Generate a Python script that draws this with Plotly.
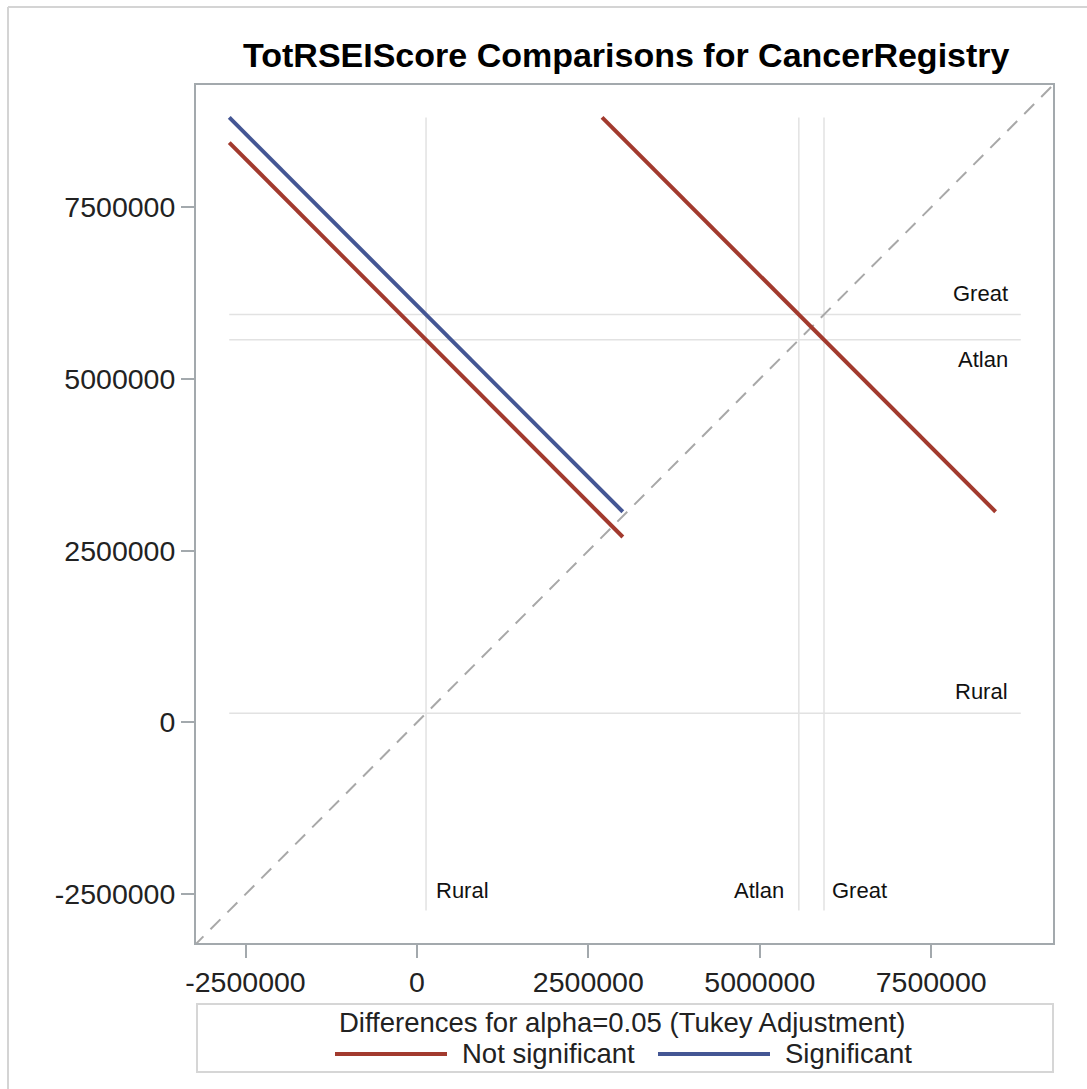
import plotly.graph_objects as go

# ---------------- data ----------------
groups = ["Rural", "Atlan", "Great"]
group_means = [133000, 5570000, 5937000]

pair_x = ["Rural", "Rural", "Atlan"]
pair_y = ["Great", "Atlan", "Great"]
ci_halfwidth = [5740000, 5740000, 5740000]   # half width of Tukey CI for the difference

tick_vals = [-2500000, 0, 2500000, 5000000, 7500000]
tick_text = ["-2500000", "0", "2500000", "5000000", "7500000"]

title_text = "TotRSEIScore Comparisons for CancerRegistry"
legend_title = "Differences for alpha=0.05 (Tukey Adjustment)"
legend_labels = ["Not significant", "Significant"]

# ---------------- style ----------------
RED = "#A23A2E"
BLUE = "#445694"
FONT = "Liberation Sans, Arial, sans-serif"
W, H = 1087, 1089
L, R, T, B = 196, 34, 85, 146
PW, PH = W - L - R, H - T - B


def px2x(px):
    return (px - L) / PW


def py2y(py):
    return (H - B - py) / PH


mean_of = dict(zip(groups, group_means))

fig = go.Figure()

# diagonal reference
x_range = [-3222000, 9277000]
y_range = [-3210000, 9279000]
fig.add_trace(go.Scatter(
    x=[-4000000, 10000000], y=[-4000000, 10000000], mode="lines",
    line=dict(color="#a8a8a8", width=2, dash="14px,10px"),
    showlegend=False, hoverinfo="skip"))

# diffogram segments
all_coords = []
segs = []
for gx, gy, hw in zip(pair_x, pair_y, ci_halfwidth):
    mx, my = mean_of[gx], mean_of[gy]
    xs = [mx - hw / 2, mx + hw / 2]
    ys = [my + hw / 2, my - hw / 2]
    sig = abs(my - mx) > hw
    segs.append((xs, ys, sig, gx, gy))
    all_coords += xs + ys

lo, hi = min(all_coords), max(all_coords)

# reference lines at the group means
shapes = []
for g, m in zip(groups, group_means):
    shapes.append(dict(type="line", xref="x", yref="y", x0=m, x1=m, y0=lo, y1=hi,
                       line=dict(color="#e2e2e2", width=1.5), layer="below"))
    shapes.append(dict(type="line", xref="x", yref="y", x0=lo, x1=hi, y0=m, y1=m,
                       line=dict(color="#e2e2e2", width=1.5), layer="below"))

for xs, ys, sig, gx, gy in segs:
    fig.add_trace(go.Scatter(
        x=xs, y=ys, mode="lines",
        line=dict(color=BLUE if sig else RED, width=4),
        name=f"{gx} - {gy}", showlegend=False))

annotations = []
# right-side (horizontal line) labels
right_label_pos = {"Great": ("bottom", 7), "Atlan": ("top", -5), "Rural": ("bottom", 7)}
for g, m in zip(groups, group_means):
    anchor, shift = right_label_pos[g]
    annotations.append(dict(text=g, xref="paper", yref="y", x=px2x(1010), y=m,
                            xanchor="right", yanchor=anchor, yshift=shift, showarrow=False,
                            font=dict(family=FONT, size=22, color="#111")))
# bottom (vertical line) labels
bottom_label_pos = {"Rural": ("left", 8), "Atlan": ("right", -13), "Great": ("left", 6)}
for g, m in zip(groups, group_means):
    anchor, shift = bottom_label_pos[g]
    annotations.append(dict(text=g, xref="x", yref="paper", x=m, y=py2y(890),
                            xanchor=anchor, yanchor="middle", xshift=shift, showarrow=False,
                            font=dict(family=FONT, size=22, color="#111")))

# title
annotations.append(dict(text="<b>" + title_text + "</b>", xref="paper", yref="paper",
                        x=px2x(626), y=py2y(55), xanchor="center", yanchor="middle", showarrow=False,
                        font=dict(family=FONT, size=34, color="#000")))

# legend (drawn)
shapes.append(dict(type="rect", xref="paper", yref="paper",
                   x0=px2x(197), x1=px2x(1053), y0=py2y(1004), y1=py2y(1072),
                   line=dict(color="#d6d6d6", width=2), fillcolor="rgba(0,0,0,0)"))
annotations.append(dict(text=legend_title, xref="paper", yref="paper",
                        x=px2x(337), y=py2y(1022), xanchor="left", yanchor="middle", showarrow=False,
                        font=dict(family=FONT, size=27.5, color="#222")))
legend_items = [(legend_labels[0], RED, 335, 447, 460), (legend_labels[1], BLUE, 658, 770, 783)]
for lab, col, x0, x1, xt in legend_items:
    shapes.append(dict(type="line", xref="paper", yref="paper",
                       x0=px2x(x0), x1=px2x(x1), y0=py2y(1054), y1=py2y(1054),
                       line=dict(color=col, width=4)))
    annotations.append(dict(text=lab, xref="paper", yref="paper",
                            x=px2x(xt), y=py2y(1053), xanchor="left", yanchor="middle", showarrow=False,
                            font=dict(family=FONT, size=27.5, color="#222")))

# outer border (left and top edges)
shapes.append(dict(type="line", xref="paper", yref="paper", x0=px2x(8), x1=px2x(8),
                   y0=py2y(7), y1=py2y(H + 5), line=dict(color="#d4d4d4", width=2)))
shapes.append(dict(type="line", xref="paper", yref="paper", x0=px2x(8), x1=px2x(W + 5),
                   y0=py2y(7), y1=py2y(7), line=dict(color="#d4d4d4", width=2)))

axis_common = dict(showgrid=False, zeroline=False, showline=True, mirror=True,
                   linecolor="#a3a9ad", linewidth=2, ticks="outside", ticklen=13,
                   tickcolor="#a3a9ad", tickwidth=2,
                   tickvals=tick_vals, ticktext=tick_text,
                   tickfont=dict(family=FONT, size=28.5, color="#222"))

fig.update_layout(
    width=W, height=H, margin=dict(l=L, r=R, t=T, b=B, autoexpand=False),
    paper_bgcolor="white", plot_bgcolor="white",
    xaxis=dict(range=x_range, **axis_common),
    yaxis=dict(range=y_range, **axis_common),
    shapes=shapes, annotations=annotations, showlegend=False,
)

fig.write_html("out.html", config={"displayModeBar": False},
               post_script="document.body.style.margin='0';document.body.style.overflow='hidden';")
